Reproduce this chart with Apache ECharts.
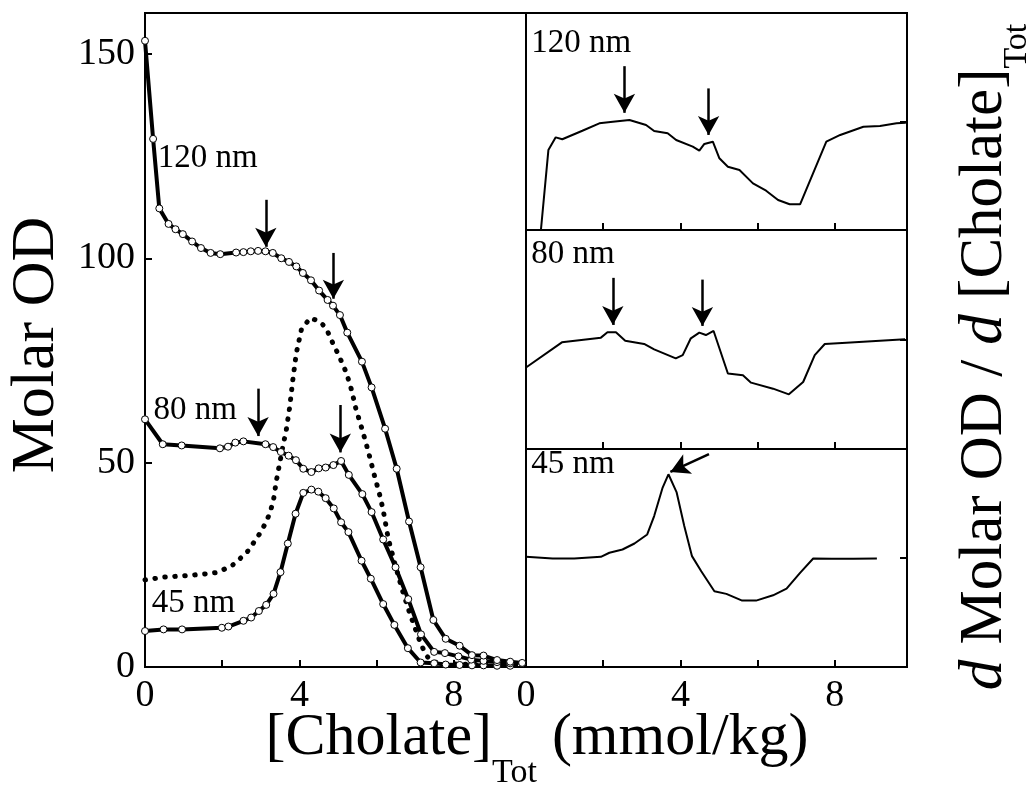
<!DOCTYPE html>
<html>
<head>
<meta charset="utf-8">
<script src="https://cdn.jsdelivr.net/npm/echarts@6/dist/echarts.min.js"></script>
<style>
  html, body { margin: 0; padding: 0; background: #fff; }
  #chart { width: 1028px; height: 793px; }
</style>
</head>
<body>
<div id="chart"></div>
<script>
// x: [Cholate]Tot (mmol/kg), y: Molar OD (left panel)
const od120 = [[0,153.2],[0.21,129.2],[0.37,112.2],[0.61,108.4],[0.79,107.1],[0.98,105.9],[1.22,104.1],[1.45,102.5],
  [1.70,101.3],[1.95,101.0],[2.36,101.4],[2.55,101.5],[2.74,101.7],[2.93,101.8],[3.12,101.7],[3.31,101.3],
  [3.53,100.0],[3.73,99.1],[3.92,98.0],[4.09,96.4],[4.30,94.6],[4.51,92.1],[4.73,89.8],[4.87,88.4],[5.05,86.1],
  [5.24,81.8],[5.62,74.7],[5.87,68.4],[6.22,58.3],[6.52,48.5],[6.84,35.6],[7.14,24.4],[7.47,11.5],[7.79,6.9],
  [8.15,5.2],[8.47,2.9],[8.77,2.8],[9.12,1.7],[9.46,1.3],[9.77,1.0]];
const od80 = [[0,60.6],[0.46,54.5],[0.95,54.2],[1.94,53.5],[2.15,53.9],[2.34,54.9],[2.55,55.2],[3.12,54.5],
  [3.32,53.8],[3.52,52.6],[3.72,51.7],[3.91,50.6],[4.10,48.5],[4.31,47.7],[4.50,48.6],[4.68,48.8],[4.88,49.4],
  [5.08,50.4],[5.28,47.0],[5.63,42.3],[5.87,37.9],[6.17,31.2],[6.49,24.4],[6.82,16.6],[7.15,8.0],[7.49,3.7],
  [7.77,3.4],[8.12,2.6],[8.45,1.8],[8.77,1.5],[9.12,1.2],[9.46,0.9]];
const od45 = [[0,8.8],[0.48,9.2],[0.96,9.2],[1.99,9.6],[2.16,9.9],[2.55,11.3],[2.75,12.1],[2.95,13.7],[3.14,15.2],
  [3.33,17.9],[3.51,23.2],[3.70,30.2],[3.90,37.5],[4.10,42.6],[4.31,43.4],[4.49,42.9],[4.68,41.3],[4.89,38.8],
  [5.08,35.4],[5.27,33.0],[5.61,26.0],[5.85,21.6],[6.17,15.4],[6.46,10.3],[6.81,4.6],[7.14,1.1],[7.49,0.9],
  [7.79,0.6],[8.15,0.5],[8.47,0.4],[8.77,0.4],[9.12,0.3],[9.46,0.3]];
const odDotted = [[0,21.3],[0.5,22.0],[1.0,22.3],[1.5,22.7],[1.84,23.1],[2.23,24.6],[2.45,26.4],[2.67,28.4],
  [2.82,30.5],[2.97,32.6],[3.10,34.8],[3.23,37.5],[3.33,40.9],[3.40,45.4],[3.49,49.9],[3.57,53.9],[3.66,58.0],
  [3.75,63.7],[3.83,70.3],[3.92,76.8],[4.05,82.5],[4.28,85.4],[4.53,84.5],[4.70,82.8],[4.80,80.5],[4.92,78.2],
  [5.03,76.0],[5.13,73.9],[5.22,71.9],[5.35,67.8],[5.46,63.3],[5.59,59.2],[5.72,55.0],[5.84,50.7],[5.95,46.6],
  [6.07,42.5],[6.17,38.4],[6.30,31.5],[6.47,25.4],[6.65,19.3],[6.80,14.8],[6.95,10.7],[7.14,5.8],[7.28,2.9],
  [7.43,1.3],[7.8,0.8],[8.5,0.6],[9.2,0.5],[9.8,0.4]];

// right panels: d Molar OD / d [Cholate]Tot, arbitrary units (0 = middle tick)
const deriv120 = [[0.36,-110],[0.58,-26.3],[0.77,-14.6],[0.94,-16.4],[1.46,-8.5],[1.90,-1.7],[2.25,-0.2],[2.68,1.4],
  [3.11,-3.2],[3.32,-8.8],[3.67,-10.9],[3.89,-17.1],[4.32,-23.2],[4.49,-26.9],[4.62,-20.7],[4.84,-18.6],[5.01,-33.9],
  [5.23,-41.7],[5.53,-44.7],[5.88,-57.0],[6.22,-63.8],[6.53,-72.4],[6.83,-76.3],[7.10,-76.3],[7.78,-18.6],
  [8.14,-12.4],[8.74,-4.8],[9.17,-4.1],[9.60,-1.7],[9.84,-1.1]];
const deriv80 = [[0,-25.6],[0.93,-2.6],[1.94,1.7],[2.11,6.6],[2.33,6.6],[2.57,-1.1],[3.06,-4.1],[3.32,-9.0],
  [3.88,-17.3],[4.06,-14.3],[4.27,1.1],[4.49,6.3],[4.66,4.1],[4.86,7.8],[5.23,-31.1],[5.62,-32.7],[5.83,-39.4],
  [6.40,-44.9],[6.81,-50.1],[7.18,-38.8],[7.48,-14.3],[7.74,-4.1],[8.30,-2.9],[9.17,-1.1],[9.82,0.2]];
const deriv45 = [[0,1.1],[0.69,-0.5],[1.25,-0.5],[1.94,1.1],[2.16,4.8],[2.50,7.8],[2.81,13.3],[3.14,21.6],
  [3.32,38.5],[3.54,64.6],[3.69,76.8],[3.90,60.5],[4.10,29.3],[4.30,1.7],[4.54,-12.1],[4.88,-30.5],[5.19,-32.9],
  [5.60,-39.1],[5.96,-39.1],[6.40,-34.2],[6.75,-28.1],[7.10,-13.6],[7.44,-0.5],[7.92,-0.7],[8.48,-0.7],[9.09,-0.5]];

const xTickLabels = [0, 4, 8];
const yTickLabels = [0, 50, 100, 150];

// arrows: [xFrom, yFrom, xTo, yTo]
const arrowsOd120 = [[3.13, 114.3, 3.13, 102.8], [4.88, 101.3, 4.88, 90.1]];
const arrowsOd80 = [[2.93, 68.1, 2.93, 56.5], [5.06, 64.1, 5.06, 52.5]];
const arrowsD120 = [[2.55, 51, 2.55, 8], [4.73, 30.5, 4.73, -12.4]];
const arrowsD80 = [[2.25, 56.3, 2.25, 13.3], [4.57, 54.7, 4.57, 12.4]];
const arrowsD45 = [[4.74, 95.2, 3.74, 79]];

// text labels: [x, y, text]
const labelOd120 = [0.32, 124.4, '120 nm'];
const labelOd80 = [0.21, 62.9, '80 nm'];
const labelOd45 = [0.16, 15.6, '45 nm'];
const labelD120 = [0.12, 72, '120 nm'];
const labelD80 = [0.12, 77.7, '80 nm'];
const labelD45 = [0.12, 86, '45 nm'];

const FONT = 'Liberation Serif';
const chart = echarts.init(document.getElementById('chart'));

function arrowLines(list) {
  return {
    silent: true,
    symbol: ['none', 'arrow'],
    symbolSize: [16, 19],
    label: { show: false },
    lineStyle: { color: '#000', width: 2.5, type: 'solid' },
    itemStyle: { color: '#000' },
    emphasis: { disabled: true },
    data: list.map(a => [{ coord: [a[0], a[1]] }, { coord: [a[2], a[3]] }])
  };
}

function textMark(lab) {
  return {
    silent: true,
    symbol: 'circle',
    symbolSize: 1,
    itemStyle: { color: 'transparent' },
    label: {
      show: true, position: 'right', distance: 0, formatter: lab[2],
      fontFamily: FONT, fontSize: 33, color: '#000'
    },
    data: [{ coord: [lab[0], lab[1]] }]
  };
}

function odSeries(name, data, arrows, lab) {
  return {
    name, type: 'line', xAxisIndex: 0, yAxisIndex: 0, data,
    symbol: 'circle', symbolSize: 7,
    lineStyle: { color: '#000', width: 4 },
    itemStyle: { color: '#fff', borderColor: '#000', borderWidth: 1 },
    markLine: arrows ? arrowLines(arrows) : undefined,
    markPoint: textMark(lab)
  };
}

function derivSeries(name, idx, data, arrows, lab) {
  return {
    name, type: 'line', xAxisIndex: idx, yAxisIndex: idx, data,
    symbol: 'none', clip: true,
    lineStyle: { color: '#000', width: 2 },
    markLine: arrowLines(arrows),
    markPoint: textMark(lab)
  };
}

const tick = { inside: true, length: 7, lineStyle: { color: '#000', width: 2 } };
const axisLine = { show: true, onZero: false, lineStyle: { color: '#000', width: 2 } };
const xLabel = {
  fontFamily: FONT, fontSize: 38, color: '#000', margin: 10, showMaxLabel: false,
  formatter: v => xTickLabels.includes(v) ? String(v) : ''
};

function xAx(grid, labels) {
  return {
    type: 'value', gridIndex: grid, min: 0, max: 9.87, interval: 2,
    axisLine, axisTick: tick, splitLine: { show: false },
    axisLabel: labels ? xLabel : { show: false }
  };
}
function yRight(grid) {
  return {
    type: 'value', gridIndex: grid, position: 'right', min: -100, max: 100, interval: 100,
    axisLine, axisTick: tick, splitLine: { show: false }, axisLabel: { show: false }
  };
}

const gridStyle = { show: true, borderColor: '#000', borderWidth: 2, containLabel: false };

chart.setOption({
  animation: false,
  backgroundColor: '#fff',
  grid: [
    Object.assign({ left: 145, top: 13, width: 381, height: 654 }, gridStyle),
    Object.assign({ left: 526, top: 13, width: 381, height: 217 }, gridStyle),
    Object.assign({ left: 526, top: 230, width: 381, height: 219 }, gridStyle),
    Object.assign({ left: 526, top: 449, width: 381, height: 218 }, gridStyle)
  ],
  xAxis: [xAx(0, true), xAx(1, false), xAx(2, false), xAx(3, true)],
  yAxis: [
    {
      type: 'value', gridIndex: 0, min: 0, max: 160, interval: 50,
      axisLine, axisTick: tick, splitLine: { show: false },
      axisLabel: {
        fontFamily: FONT, fontSize: 38, color: '#000', margin: 10, showMaxLabel: false,
        formatter: v => yTickLabels.includes(v) ? String(v) : ''
      }
    },
    yRight(1), yRight(2), yRight(3)
  ],
  graphic: [
    {
      type: 'text', x: 37, y: 345, rotation: Math.PI / 2,
      style: { text: 'Molar OD', font: '62px "Liberation Serif"', fill: '#000', align: 'center', verticalAlign: 'middle' }
    },
    {
      type: 'text', x: 537, y: 708,
      style: {
        text: '{a|[Cholate]}{s|Tot}{a| (mmol/kg)}',
        align: 'center', verticalAlign: 'top',
        rich: {
          a: { fontFamily: FONT, fontSize: 60, lineHeight: 62, verticalAlign: 'top', fill: '#000' },
          s: { fontFamily: FONT, fontSize: 34, lineHeight: 34, verticalAlign: 'top', padding: [48, 0, 0, 0], fill: '#000' }
        }
      }
    },
    {
      type: 'text', x: 985, y: 357, rotation: Math.PI / 2,
      style: {
        text: '{i|d}{a| Molar OD / }{i|d}{a| [Cholate]}{s|Tot}',
        align: 'center', verticalAlign: 'middle',
        rich: {
          a: { fontFamily: FONT, fontSize: 61, lineHeight: 62, verticalAlign: 'top', fill: '#000' },
          i: { fontFamily: FONT, fontStyle: 'italic', fontSize: 61, lineHeight: 62, verticalAlign: 'top', fill: '#000' },
          s: { fontFamily: FONT, fontSize: 34, lineHeight: 34, verticalAlign: 'top', padding: [46, 0, 0, 0], fill: '#000' }
        }
      }
    }
  ],
  series: [
    {
      name: 'dotted', type: 'line', xAxisIndex: 0, yAxisIndex: 0, data: odDotted,
      symbol: 'none',
      lineStyle: { color: '#000', width: 5, type: [0.5, 9.5], cap: 'round' }
    },
    odSeries('45 nm', od45, null, labelOd45),
    odSeries('80 nm', od80, arrowsOd80, labelOd80),
    odSeries('120 nm', od120, arrowsOd120, labelOd120),
    derivSeries('d120', 1, deriv120, arrowsD120, labelD120),
    derivSeries('d80', 2, deriv80, arrowsD80, labelD80),
    derivSeries('d45', 3, deriv45, arrowsD45, labelD45)
  ]
});
</script>
</body>
</html>
